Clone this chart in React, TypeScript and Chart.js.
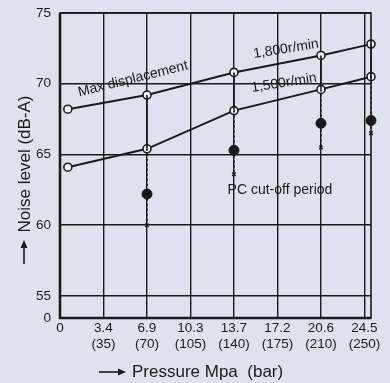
import React, { useEffect, useRef } from "react";
import { Chart, registerables } from "chart.js";
Chart.register(...registerables);

// ---- data ----
const tickPositions = [0, 1, 2, 3, 4, 5, 6, 7];
const tickMpa = ["0", "3.4", "6.9", "10.3", "13.7", "17.2", "20.6", "24.5"];
const tickBar = ["", "(35)", "(70)", "(105)", "(140)", "(175)", "(210)", "(250)"];
const yTickValues = [53.44, 55, 60, 65, 70, 75];
const pressurePos = [0.18, 2, 4, 6, 7.15];
const speed1800 = [68.2, 69.2, 70.8, 72.0, 72.8];
const speed1500 = [64.1, 65.4, 68.1, 69.6, 70.5];
const cutoffPos = [2, 4, 6, 7.15];
const cutoffDot = [62.2, 65.3, 67.2, 67.4];
const cutoffMark = [60.0, 63.6, 65.5, 66.5];

const BG = "#dde3ee";
const INK = "#1a1a1a";
const FONT = "'Liberation Sans', Arial, sans-serif";

function arrowLine(ctx: CanvasRenderingContext2D, x1: number, y1: number, x2: number, y2: number) {
  const ang = Math.atan2(y2 - y1, x2 - x1);
  ctx.beginPath();
  ctx.moveTo(x1, y1);
  ctx.lineTo(x2 - 5 * Math.cos(ang), y2 - 5 * Math.sin(ang));
  ctx.lineWidth = 1.6;
  ctx.stroke();
  ctx.beginPath();
  ctx.moveTo(x2, y2);
  ctx.lineTo(x2 - 8 * Math.cos(ang) + 3.5 * Math.sin(ang), y2 - 8 * Math.sin(ang) - 3.5 * Math.cos(ang));
  ctx.lineTo(x2 - 8 * Math.cos(ang) - 3.5 * Math.sin(ang), y2 - 8 * Math.sin(ang) + 3.5 * Math.cos(ang));
  ctx.closePath();
  ctx.fill();
}

const decorPlugin = {
  id: "decor",
  beforeDraw(chart: any) {
    const ctx = chart.ctx;
    ctx.save();
    ctx.fillStyle = BG;
    ctx.fillRect(0, 0, chart.width, chart.height);
    ctx.restore();
  },
  afterDraw(chart: any) {
    const ctx = chart.ctx as CanvasRenderingContext2D;
    const a = chart.chartArea;
    ctx.save();
    ctx.strokeStyle = INK;
    ctx.fillStyle = INK;
    // frame
    ctx.lineWidth = 1.6;
    ctx.strokeRect(a.left, a.top, a.right - a.left, a.bottom - a.top);
    ctx.lineWidth = 2.6;
    ctx.beginPath();
    ctx.moveTo(a.left, a.top);
    ctx.lineTo(a.left, a.bottom);
    ctx.lineTo(a.right, a.bottom);
    ctx.stroke();

    const txt = (s: string, x: number, y: number, rot: number, size: number) => {
      ctx.save();
      ctx.translate(x, y);
      ctx.rotate((rot * Math.PI) / 180);
      ctx.font = `${size}px ${FONT}`;
      ctx.textAlign = "center";
      ctx.textBaseline = "middle";
      ctx.fillText(s, 0, 0);
      ctx.restore();
    };
    // annotations
    txt("Max displacement", 133, 79, -14, 14);
    txt("1,800r/min", 286, 49, -9, 14);
    txt("1,500r/min", 284, 83, -9, 14);
    txt("PC cut-off period", 280, 190, 0, 14);

    // axis titles
    txt("Noise level (dB-A)", 25, 164, -90, 17);
    arrowLine(ctx, 24, 264, 24, 240);
    ctx.font = `17px ${FONT}`;
    ctx.textAlign = "left";
    ctx.textBaseline = "middle";
    ctx.fillText("Pressure Mpa  (bar)", 132, 372);
    arrowLine(ctx, 99, 372, 126, 372);
    ctx.restore();
  },
};

export default function App() {
  const ref = useRef<HTMLCanvasElement | null>(null);
  useEffect(() => {
    if (!ref.current) return;
    const upper = pressurePos.map((x, i) => ({ x, y: speed1800[i] }));
    const lower = pressurePos.map((x, i) => ({ x, y: speed1500[i] }));
    const solidDrops: any[] = [];
    const dottedDrops: any[] = [];
    cutoffPos.forEach((x, i) => {
      const j = pressurePos.indexOf(x);
      solidDrops.push({ x, y: speed1800[j] }, { x, y: speed1500[j] }, { x, y: null });
      dottedDrops.push({ x, y: speed1500[j] }, { x, y: cutoffDot[i] }, { x, y: cutoffMark[i] }, { x, y: null });
    });
    const dots = cutoffPos.map((x, i) => ({ x, y: cutoffDot[i] }));
    const marks = cutoffPos.map((x, i) => ({ x, y: cutoffMark[i] }));

    const chart = new Chart(ref.current, {
      type: "line",
      data: {
        datasets: [
          { label: "drops", data: solidDrops, borderColor: INK, borderWidth: 1.6, pointRadius: 0, spanGaps: false, clip: false } as any,
          { label: "cutoff", data: dottedDrops, borderColor: INK, borderWidth: 1.8, borderDash: [2, 3], pointRadius: 0, spanGaps: false, clip: false } as any,
          { label: "1800", data: upper, borderColor: INK, borderWidth: 2, pointRadius: 4, pointBorderWidth: 1.6, pointBackgroundColor: "#f2f4f8", pointBorderColor: INK, clip: false } as any,
          { label: "1500", data: lower, borderColor: INK, borderWidth: 2, pointRadius: 4, pointBorderWidth: 1.6, pointBackgroundColor: "#f2f4f8", pointBorderColor: INK, clip: false } as any,
          { label: "dots", data: dots, showLine: false, pointRadius: 5, pointBackgroundColor: INK, pointBorderColor: INK, clip: false } as any,
          { label: "marks", data: marks, showLine: false, pointStyle: "crossRot", pointRadius: 2.5, pointBorderWidth: 1.4, pointBorderColor: INK, clip: false } as any,
        ],
      },
      options: {
        animation: false,
        responsive: false,
        maintainAspectRatio: false,
        events: [],
        layout: { padding: { left: 0, right: 19, top: 13, bottom: 0 } },
        plugins: { legend: { display: false }, tooltip: { enabled: false } },
        scales: {
          x: {
            type: "linear",
            min: 0,
            max: 7.15,
            afterBuildTicks: (axis: any) => {
              axis.ticks = tickPositions.map((v) => ({ value: v }));
            },
            afterFit: (axis: any) => {
              axis.height = 65;
              axis.paddingLeft = 0;
              axis.paddingRight = 0;
            },
            grid: { color: INK, lineWidth: 1.4, drawTicks: false },
            border: { display: false },
            ticks: {
              autoSkip: false,
              maxRotation: 0,
              padding: 2,
              color: INK,
              font: { family: FONT, size: 13.5, lineHeight: 1.2 },
              callback: (v: any) => {
                const i = tickPositions.indexOf(Number(v));
                if (i < 0) return "";
                return tickBar[i] ? [tickMpa[i], tickBar[i]] : tickMpa[i];
              },
            },
          },
          y: {
            type: "linear",
            min: 53.44,
            max: 75,
            afterBuildTicks: (axis: any) => {
              axis.ticks = yTickValues.map((v) => ({ value: v }));
            },
            afterFit: (axis: any) => {
              axis.width = 60;
              axis.paddingTop = 0;
              axis.paddingBottom = 0;
            },
            grid: { color: INK, lineWidth: 1.4, drawTicks: false },
            border: { display: false },
            ticks: {
              padding: 9,
              color: INK,
              font: { family: FONT, size: 13.5 },
              callback: (v: any) => (Number(v) < 54 ? "0" : String(v)),
            },
          },
        },
      } as any,
      plugins: [decorPlugin],
    });
    return () => chart.destroy();
  }, []);
  return (
    <div style={{ position: "fixed", left: 0, top: 0, width: 390, height: 383, background: BG }}>
      <canvas ref={ref} width={390} height={383} style={{ width: 390, height: 383, display: "block" }} />
    </div>
  );
}
